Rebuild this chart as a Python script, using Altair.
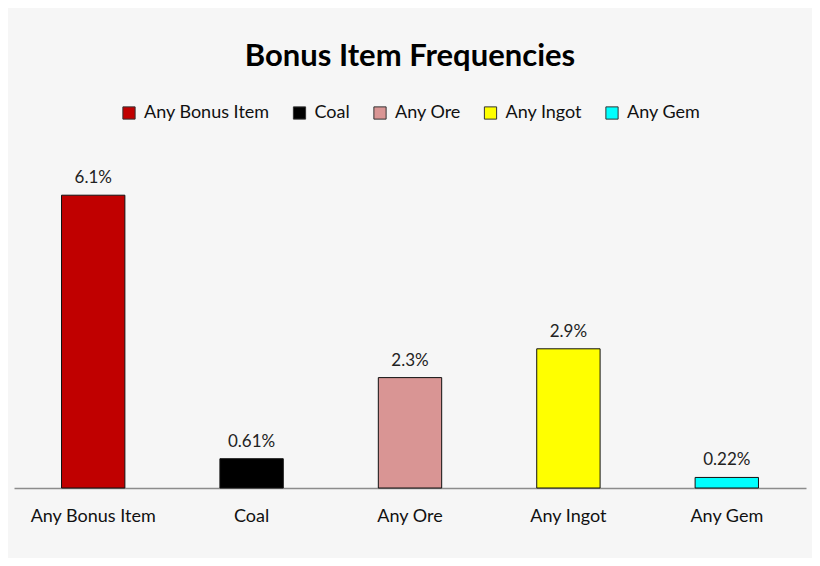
import altair as alt
import pandas as pd

categories = ["Any Bonus Item", "Coal", "Any Ore", "Any Ingot", "Any Gem"]
values = [6.1, 0.61, 2.3, 2.9, 0.22]
labels = ["6.1%", "0.61%", "2.3%", "2.9%", "0.22%"]
colors = ["#C00000", "#000000", "#D99594", "#FFFF00", "#00FFFF"]

df = pd.DataFrame({"item": categories, "value": values, "label": labels})

FONT = "Lato"

x = alt.X("item:N", sort=categories, title=None,
          scale=alt.Scale(paddingInner=0.6, paddingOuter=0.3),
          axis=alt.Axis(labelAngle=0, labelFontSize=18, labelColor="#111111",
                        labelFont=FONT, labelPadding=19, ticks=False,
                        domainColor="#8c8c8c", domainWidth=1.5))
y = alt.Y("value:Q", scale=alt.Scale(domain=[0, 7]), axis=None)

bars = alt.Chart(df).mark_bar(stroke="#111111", strokeWidth=1).encode(
    x=x, y=y,
    color=alt.Color("item:N", sort=categories,
                    scale=alt.Scale(domain=categories, range=colors),
                    legend=alt.Legend(title=None, orient="none", direction="horizontal",
                                      legendX=112 - 6, legendY=-48,
                                      symbolType="square", symbolSize=150,
                                      symbolStrokeColor="#333333", symbolStrokeWidth=1,
                                      labelFontSize=18, labelFont=FONT, labelColor="#111111",
                                      labelOffset=6, columnPadding=20.5)),
)

text = alt.Chart(df).mark_text(dy=-8, baseline="bottom", fontSize=17,
                               font=FONT, color="#222222").encode(
    x=alt.X("item:N", sort=categories), y="value:Q", text="label:N")

chart = (bars + text).properties(
    width=792, height=336,
    title=alt.TitleParams("Bonus Item Frequencies", fontSize=31, font=FONT,
                          fontWeight="bold", color="#000000", anchor="middle",
                          offset=31),
    autosize=alt.AutoSizeParams(type="none"),
    padding={"left": 6, "top": 144, "right": 6, "bottom": 70},
    background="#f6f6f6",
).configure_view(stroke=None)

chart.save("out.html", embed_options={"renderer": "svg", "actions": False})
